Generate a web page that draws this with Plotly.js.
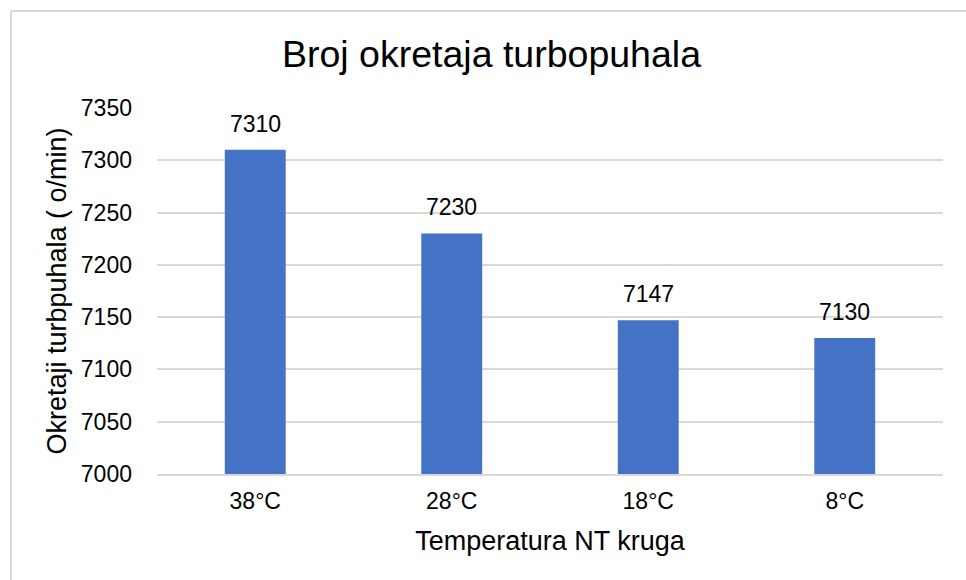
<!DOCTYPE html>
<html>
<head>
<meta charset="utf-8">
<script src="https://cdn.plot.ly/plotly-3.0.1.min.js"></script>
<style>
html, body { margin: 0; padding: 0; background: #ffffff; }
#chart { width: 966px; height: 580px; }
</style>
</head>
<body>
<div id="chart"></div>
<script>
const categories = ["38°C", "28°C", "18°C", "8°C"];
const rpm = [7310, 7230, 7147, 7130];
const yTicks = [7000, 7050, 7100, 7150, 7200, 7250, 7300, 7350];

const FONT = "Liberation Sans, Arial, sans-serif";
const W = 966, H = 580, L = 157, R = 23, T = 108, B = 106;
const pw = W - L - R, ph = H - T - B;
const px = v => (v - L) / pw;
const py = v => (H - B - v) / ph;

const trace = {
  type: "bar",
  x: categories,
  y: rpm,
  marker: { color: "#4472C4" },
  hoverinfo: "x+y"
};

const labels = categories.map((c, i) => ({
  x: c, y: rpm[i], xref: "x", yref: "y",
  text: String(rpm[i]), showarrow: false,
  yanchor: "bottom", yshift: 11,
  font: { family: FONT, size: 23, color: "#000000" }
}));

const layout = {
  width: W, height: H,
  margin: { l: L, r: R, t: T, b: B, pad: 0 },
  paper_bgcolor: "#ffffff",
  plot_bgcolor: "#ffffff",
  bargap: 0.69,
  showlegend: false,
  font: { family: FONT, color: "#000000" },
  title: {
    text: "Broj okretaja turbopuhala",
    font: { family: FONT, size: 37.5, color: "#000000" },
    x: 491.5 / W, xref: "container", xanchor: "center",
    y: 1 - 67 / H, yref: "container", yanchor: "bottom"
  },
  xaxis: {
    type: "category",
    showgrid: false,
    showline: true, linecolor: "#d9d9d9", linewidth: 2,
    ticks: "",
    ticklabelstandoff: 5,
    tickfont: { family: FONT, size: 23, color: "#000000" },
    title: {
      text: "Temperatura NT kruga",
      font: { family: FONT, size: 27, color: "#000000" },
      standoff: 19
    }
  },
  yaxis: {
    range: [7000, 7350],
    tickvals: yTicks,
    ticktext: yTicks.map(String),
    showgrid: true, gridcolor: "#d9d9d9", gridwidth: 2,
    zeroline: false, showline: false,
    ticks: "",
    ticklabelstandoff: 24,
    tickfont: { family: FONT, size: 23, color: "#000000" },
    title: {
      text: "Okretaji turbpuhala ( o/min)",
      font: { family: FONT, size: 27, color: "#000000" },
      standoff: 6
    }
  },
  annotations: labels,
  shapes: [{
    type: "rect", xref: "paper", yref: "paper",
    x0: px(11), x1: px(975), y0: py(590), y1: py(11),
    line: { color: "#d9d9d9", width: 2 },
    fillcolor: "rgba(0,0,0,0)", layer: "below"
  }]
};

Plotly.newPlot("chart", [trace], layout, { displayModeBar: false, staticPlot: true });
</script>
</body>
</html>
